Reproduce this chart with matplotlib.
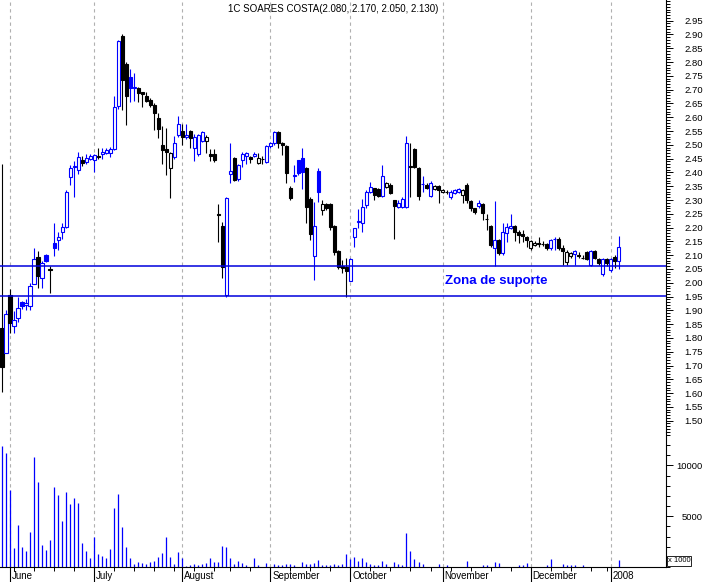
import numpy as np
import pandas as pd
import matplotlib
matplotlib.use("Agg")
import matplotlib.pyplot as plt
from matplotlib.ticker import FixedLocator, MultipleLocator, FormatStrFormatter

plt.rcParams['font.family'] = ['Liberation Sans', 'DejaVu Sans']

TICKER = "1C SOARES COSTA"

# daily prices, 30 May 2007 .. 4 Jan 2008
opens = [
    1.836, 1.746, 1.956, 1.845, 1.873, 1.930, 1.918, 1.916, 1.996, 2.093,
    2.017, 2.100, 2.050, 2.144, 2.155, 2.184, 2.202, 2.383, 2.420, 2.409,
    2.445, 2.438, 2.448, 2.445, 2.460, 2.467, 2.470, 2.472, 2.484, 2.641,
    2.894, 2.793, 2.746, 2.705, 2.706, 2.690, 2.677, 2.663, 2.644, 2.597,
    2.500, 2.485, 2.416, 2.456, 2.535, 2.550, 2.530, 2.550, 2.488, 2.467,
    2.514, 2.514, 2.465, 2.467, 2.250, 2.206, 1.956, 2.394, 2.452, 2.376,
    2.445, 2.460, 2.455, 2.460, 2.434, 2.450, 2.438, 2.496, 2.507, 2.546,
    2.505, 2.496, 2.344, 2.388, 2.445, 2.452, 2.416, 2.304, 2.097, 2.405,
    2.264, 2.285, 2.285, 2.206, 2.115, 2.060, 2.057, 2.007, 2.166, 2.220,
    2.217, 2.282, 2.329, 2.343, 2.340, 2.314, 2.347, 2.354, 2.300, 2.275,
    2.275, 2.275, 2.420, 2.485, 2.416, 2.357, 2.354, 2.314, 2.340, 2.350,
    2.330, 2.330, 2.310, 2.325, 2.330, 2.318, 2.354, 2.296, 2.270, 2.280,
    2.285, 2.232, 2.206, 2.126, 2.155, 2.108, 2.180, 2.200, 2.206, 2.184,
    2.175, 2.166, 2.126, 2.137, 2.145, 2.142, 2.140, 2.126, 2.158, 2.159,
    2.126, 2.075, 2.097, 2.104, 2.100, 2.090, 2.112, 2.065, 2.115, 2.086,
    2.032, 2.086, 2.046, 2.093, 2.080,
]
highs = [
    2.430, 1.900, 1.978, 1.898, 1.949, 1.935, 1.940, 1.999, 2.126, 2.115,
    2.080, 2.105, 2.060, 2.217, 2.184, 2.217, 2.336, 2.427, 2.440, 2.474,
    2.459, 2.466, 2.465, 2.465, 2.488, 2.488, 2.490, 2.492, 2.677, 2.880,
    2.900, 2.800, 2.775, 2.760, 2.710, 2.690, 2.690, 2.670, 2.650, 2.615,
    2.570, 2.560, 2.475, 2.532, 2.604, 2.575, 2.575, 2.555, 2.540, 2.540,
    2.550, 2.535, 2.485, 2.485, 2.285, 2.220, 2.310, 2.507, 2.455, 2.430,
    2.474, 2.475, 2.460, 2.475, 2.470, 2.460, 2.500, 2.510, 2.550, 2.550,
    2.510, 2.500, 2.350, 2.427, 2.445, 2.488, 2.420, 2.310, 2.293, 2.416,
    2.300, 2.290, 2.290, 2.210, 2.120, 2.083, 2.090, 2.090, 2.200, 2.267,
    2.304, 2.335, 2.365, 2.345, 2.343, 2.427, 2.365, 2.360, 2.300, 2.300,
    2.310, 2.532, 2.507, 2.490, 2.420, 2.387, 2.360, 2.369, 2.355, 2.355,
    2.340, 2.335, 2.335, 2.340, 2.345, 2.340, 2.360, 2.300, 2.270, 2.300,
    2.290, 2.250, 2.210, 2.296, 2.160, 2.217, 2.217, 2.250, 2.210, 2.190,
    2.190, 2.170, 2.155, 2.150, 2.166, 2.150, 2.145, 2.160, 2.165, 2.165,
    2.137, 2.120, 2.110, 2.120, 2.110, 2.100, 2.115, 2.120, 2.120, 2.090,
    2.090, 2.090, 2.090, 2.100, 2.170,
]
lows = [
    1.604, 1.746, 1.818, 1.818, 1.858, 1.905, 1.900, 1.901, 1.996, 1.981,
    1.980, 2.075, 1.963, 2.097, 2.119, 2.159, 2.200, 2.354, 2.310, 2.394,
    2.423, 2.430, 2.445, 2.400, 2.450, 2.449, 2.465, 2.456, 2.480, 2.630,
    2.626, 2.572, 2.655, 2.660, 2.655, 2.637, 2.655, 2.637, 2.554, 2.525,
    2.430, 2.390, 2.307, 2.450, 2.530, 2.499, 2.520, 2.490, 2.440, 2.460,
    2.510, 2.470, 2.440, 2.438, 2.148, 2.017, 1.950, 2.362, 2.370, 2.370,
    2.420, 2.430, 2.435, 2.455, 2.430, 2.430, 2.435, 2.490, 2.500, 2.490,
    2.463, 2.360, 2.300, 2.365, 2.390, 2.340, 2.217, 2.155, 2.010, 2.293,
    2.245, 2.265, 2.190, 2.100, 2.050, 2.035, 1.950, 2.006, 2.130, 2.199,
    2.184, 2.270, 2.325, 2.300, 2.310, 2.310, 2.345, 2.320, 2.159, 2.270,
    2.270, 2.270, 2.310, 2.415, 2.300, 2.330, 2.340, 2.310, 2.335, 2.289,
    2.325, 2.320, 2.305, 2.320, 2.325, 2.290, 2.290, 2.260, 2.250, 2.270,
    2.228, 2.190, 2.130, 2.060, 2.100, 2.100, 2.148, 2.195, 2.150, 2.145,
    2.148, 2.130, 2.120, 2.135, 2.130, 2.135, 2.120, 2.120, 2.120, 2.120,
    2.065, 2.065, 2.090, 2.065, 2.090, 2.085, 2.083, 2.060, 2.085, 2.065,
    2.025, 2.060, 2.040, 2.055, 2.050,
]
closes = [
    1.695, 1.887, 1.854, 1.865, 1.910, 1.915, 1.925, 1.988, 2.086, 2.025,
    2.070, 2.080, 2.045, 2.126, 2.166, 2.202, 2.329, 2.416, 2.425, 2.456,
    2.434, 2.452, 2.458, 2.462, 2.455, 2.474, 2.480, 2.485, 2.637, 2.876,
    2.735, 2.677, 2.706, 2.710, 2.688, 2.686, 2.659, 2.644, 2.615, 2.557,
    2.480, 2.475, 2.470, 2.507, 2.575, 2.528, 2.535, 2.525, 2.530, 2.535,
    2.545, 2.528, 2.460, 2.445, 2.245, 2.057, 2.307, 2.405, 2.372, 2.427,
    2.467, 2.470, 2.450, 2.468, 2.452, 2.448, 2.496, 2.507, 2.546, 2.507,
    2.500, 2.398, 2.307, 2.392, 2.398, 2.402, 2.275, 2.177, 2.206, 2.329,
    2.285, 2.270, 2.202, 2.112, 2.057, 2.055, 2.043, 2.086, 2.199, 2.224,
    2.275, 2.329, 2.347, 2.318, 2.314, 2.387, 2.361, 2.325, 2.278, 2.289,
    2.304, 2.507, 2.425, 2.420, 2.314, 2.358, 2.343, 2.361, 2.352, 2.338,
    2.337, 2.329, 2.330, 2.336, 2.340, 2.336, 2.300, 2.271, 2.257, 2.290,
    2.253, 2.230, 2.137, 2.155, 2.108, 2.184, 2.202, 2.205, 2.184, 2.173,
    2.170, 2.155, 2.150, 2.145, 2.142, 2.140, 2.126, 2.155, 2.160, 2.126,
    2.115, 2.112, 2.108, 2.115, 2.098, 2.088, 2.086, 2.115, 2.090, 2.072,
    2.086, 2.072, 2.086, 2.080, 2.130,
]
# volume in thousands of shares
volumes = [
    11960, 11270, 7615, 1890, 4116, 1960, 1568, 3430, 10880, 8330,
    2156, 1666, 2646, 7840, 7056, 4508, 7350, 6174, 6762, 6272,
    2352, 1568, 882, 2940, 1274, 1078, 882, 1764, 5782, 7154,
    3920, 1960, 882, 294, 490, 392, 294, 490, 588, 980,
    1372, 2940, 980, 294, 1470, 882, 100, 196, 294, 196,
    294, 392, 882, 490, 490, 2058, 1960, 882, 294, 588,
    392, 196, 0, 882, 196, 0, 392, 0, 294, 196,
    196, 294, 294, 196, 0, 490, 294, 294, 392, 686,
    196, 196, 196, 294, 196, 294, 1274, 784, 980, 588,
    882, 490, 294, 196, 196, 588, 294, 0, 490, 294,
    196, 3330, 1568, 784, 490, 294, 0, 0, 0, 294,
    0, 196, 0, 0, 0, 0, 588, 0, 0, 0,
    196, 196, 0, 490, 392, 0, 0, 0, 0, 196,
    196, 392, 0, 0, 0, 0, 196, 784, 0, 0,
    294, 196, 196, 196, 0, 196, 0, 0, 0, 0,
    0, 0, 0, 0, 686,
]
holidays = ["2007-08-15", "2007-12-25", "2008-01-01"]

support_levels = [2.062, 1.951]
support_label = "Zona de suporte"

BLUE = "#0000ff"


def trading_days():
    days = pd.bdate_range("2007-05-30", "2008-01-04")
    return days[~days.isin(pd.to_datetime(holidays))]


def main():
    o = np.array(opens)
    h = np.array(highs)
    l = np.array(lows)
    c = np.array(closes)
    v = np.array(volumes)
    n = len(c)
    x = np.arange(n)
    days = trading_days()

    # colour by close vs previous close, fill when close < open
    prev = np.r_[np.inf, c[:-1]]
    cols = np.where(c > prev, BLUE, "black")
    faces = np.where(c < o, cols, "white")

    month_idx = [i for i in range(1, n) if days[i].month != days[i - 1].month]
    month_lab = [str(days[i].year) if days[i].month == 1 else days[i].strftime("%B")
                 for i in month_idx]
    week_idx = [i for i in range(1, n) if days[i].weekday() < days[i - 1].weekday()]

    fig = plt.figure(figsize=(7.07, 5.82), dpi=100)
    W, H = 707.0, 582.0
    ax = fig.add_axes([0, 1 - 432 / H, 666 / W, 432 / H])
    axv = fig.add_axes([0, 1 - 567 / H, 666 / W, 135 / H], sharex=ax)

    grid_kw = dict(color="#b0b0b0", lw=0.8, ls=(0, (3, 3)), zorder=1)
    for m in month_idx:
        ax.axvline(m, **grid_kw)
        axv.axvline(m, **grid_kw)

    # candles
    ax.vlines(x, l, h, colors=cols, lw=0.8, zorder=2)
    ax.bar(x, np.abs(c - o), bottom=np.minimum(o, c), width=0.78,
           color=faces, edgecolor=cols, linewidth=0.8, zorder=3)

    for lvl in support_levels:
        ax.axhline(lvl, color="#0000dd", lw=1.1, zorder=4)
    ax.text(110.6, 2.008, support_label, color=BLUE, fontsize=9.5,
            fontweight="bold", ha="left", va="center", zorder=5)

    title = f"{TICKER}({o[-1]:.3f}, {h[-1]:.3f}, {l[-1]:.3f}, {c[-1]:.3f})"
    ax.text(0.5, 1 - 9 / 432, title, transform=ax.transAxes,
            ha="center", va="center", fontsize=7)

    # volume
    axv.vlines(x, 0, v, colors=BLUE, lw=0.9, zorder=2)

    ax.set_xlim(-0.5, 165.8)
    ax.set_ylim(1.459, 3.025)
    axv.set_ylim(0, 13300)

    for a in (ax, axv):
        a.set_facecolor("none")
        a.spines["left"].set_visible(False)
        a.spines["top"].set_visible(False)
        a.spines["right"].set_linewidth(0.8)
        a.yaxis.tick_right()
    ax.spines["bottom"].set_visible(False)
    axv.spines["bottom"].set_linewidth(0.8)

    ax.yaxis.set_major_locator(FixedLocator(np.round(np.arange(1.50, 2.96, 0.05), 2)))
    ax.yaxis.set_minor_locator(MultipleLocator(0.01))
    ax.yaxis.set_major_formatter(FormatStrFormatter("%.2f"))
    axv.yaxis.set_major_locator(FixedLocator([5000, 10000]))
    axv.yaxis.set_minor_locator(MultipleLocator(1000))
    axv.yaxis.set_major_formatter(FormatStrFormatter("%d"))

    for a in (ax, axv):
        a.tick_params(axis="y", which="major", direction="out", length=5,
                      width=0.7, labelsize=6.8, pad=21.6)
        a.tick_params(axis="y", which="minor", direction="out", length=3, width=0.7)
        for t in a.yaxis.get_major_ticks():
            t.label2.set_horizontalalignment("right")

    ax.tick_params(axis="x", which="both", bottom=False, labelbottom=False)
    axv.set_xticks(month_idx)
    axv.set_xticks(week_idx, minor=True)
    axv.tick_params(axis="x", which="major", direction="out", length=11.5,
                    width=0.8, labelbottom=False)
    axv.tick_params(axis="x", which="minor", direction="out", length=3, width=0.7)

    for m, lab in zip(month_idx, month_lab):
        axv.annotate(lab, xy=(m, 0), xycoords=("data", "axes fraction"),
                     xytext=(2, -4), textcoords="offset pixels",
                     ha="left", va="top", fontsize=7)

    fig.text(679 / W, 1 - 561 / H, "x 1000", fontsize=5.5, ha="center", va="center",
             bbox=dict(boxstyle="square,pad=0.15", fc="white", ec="black", lw=0.6))

    fig.savefig("out.png", dpi=100)


if __name__ == "__main__":
    main()
